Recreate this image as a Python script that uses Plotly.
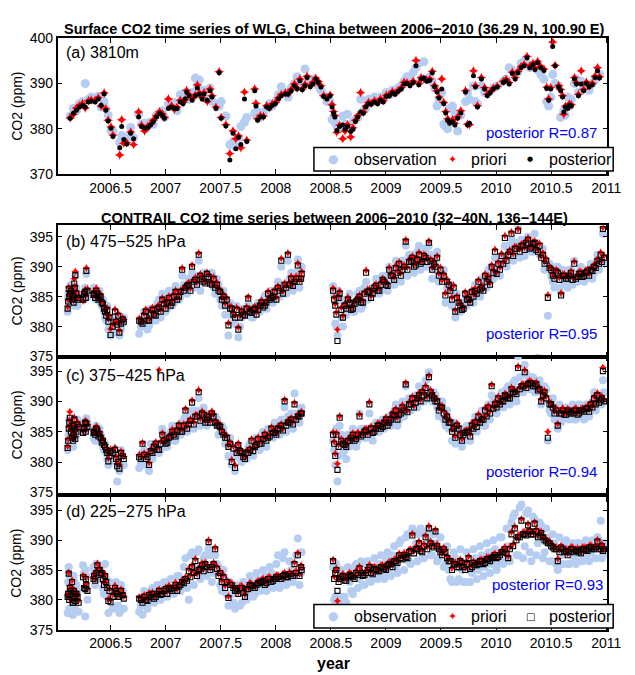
import plotly.graph_objects as go

# ---------------- Panel (a): WLG surface ----------------
a_year = [2006.133, 2006.162, 2006.191, 2006.216, 2006.245, 2006.270, 2006.299, 2006.324, 2006.360, 2006.388,
          2006.414, 2006.442, 2006.457, 2006.478, 2006.504, 2006.522, 2006.583, 2006.601, 2006.620, 2006.647,
          2006.683, 2006.709, 2006.755, 2006.781, 2006.809, 2006.838, 2006.863, 2006.888, 2006.917, 2006.946,
          2006.971, 2006.989, 2007.025, 2007.054, 2007.079, 2007.104, 2007.133, 2007.158, 2007.176, 2007.191,
          2007.212, 2007.241, 2007.270, 2007.288, 2007.306, 2007.331, 2007.349, 2007.378, 2007.403, 2007.421,
          2007.457, 2007.486, 2007.504, 2007.547, 2007.583, 2007.612, 2007.637, 2007.662, 2007.683, 2007.716,
          2007.737, 2007.809, 2007.820, 2007.835, 2007.860, 2007.888, 2007.917, 2007.942, 2007.968, 2007.996,
          2008.025, 2008.050, 2008.086, 2008.112, 2008.140, 2008.169, 2008.194, 2008.219, 2008.241, 2008.266,
          2008.284, 2008.313, 2008.338, 2008.363, 2008.385, 2008.410, 2008.435, 2008.464, 2008.493, 2008.511,
          2008.525, 2008.536, 2008.554, 2008.579, 2008.608, 2008.629, 2008.651, 2008.680, 2008.701, 2008.723,
          2008.745, 2008.770, 2008.795, 2008.817, 2008.842, 2008.867, 2008.896, 2008.924, 2008.950, 2008.975,
          2009.004, 2009.032, 2009.058, 2009.083, 2009.112, 2009.140, 2009.165, 2009.191, 2009.219, 2009.248,
          2009.273, 2009.299, 2009.320, 2009.345, 2009.371, 2009.399, 2009.421, 2009.442, 2009.464, 2009.482,
          2009.507, 2009.525, 2009.543, 2009.561, 2009.579, 2009.604, 2009.626, 2009.651, 2009.680, 2009.723,
          2009.741, 2009.759, 2009.795, 2009.813, 2009.831, 2009.867, 2009.896, 2009.921, 2009.946, 2009.975,
          2010.011, 2010.065, 2010.090, 2010.119, 2010.147, 2010.173, 2010.198, 2010.227, 2010.255, 2010.281,
          2010.306, 2010.335, 2010.353, 2010.378, 2010.406, 2010.435, 2010.460, 2010.478, 2010.496, 2010.514,
          2010.536, 2010.568, 2010.586, 2010.604, 2010.615, 2010.629, 2010.651, 2010.665, 2010.683, 2010.712,
          2010.730, 2010.748, 2010.773, 2010.795, 2010.820, 2010.845, 2010.874, 2010.899, 2010.921, 2010.939]
a_post = [382.3, 383.4, 384.1, 384.8, 385.2, 384.8, 385.9, 386.1, 385.9, 386.6,
          385.2, 387.7, 384.1, 381.7, 380.1, 378.3, 375.8, 380.5, 377.6, 376.6,
          379.0, 377.8, 382.6, 380.5, 380.1, 380.3, 380.8, 381.6, 382.6, 383.4,
          383.0, 382.3, 384.5, 384.8, 384.5, 384.5, 385.9, 385.5, 386.6, 388.1,
          387.3, 386.3, 387.3, 389.0, 387.6, 386.6, 387.7, 386.3, 388.4, 387.0,
          384.5, 392.4, 382.3, 380.6, 373.1, 379.0, 375.6, 378.1, 376.5, 386.6,
          377.2, 388.4, 385.0, 381.9, 382.6, 382.6, 384.8, 384.5, 385.2, 385.5,
          386.6, 387.3, 387.7, 387.6, 388.4, 389.5, 388.8, 390.6, 388.6, 389.5,
          391.3, 389.3, 389.9, 391.0, 390.2, 389.2, 387.1, 386.6, 387.3, 384.8,
          383.5, 382.6, 379.6, 380.5, 380.8, 379.9, 380.5, 379.4, 379.9, 381.6,
          382.6, 383.7, 383.4, 384.8, 385.5, 385.4, 385.9, 385.5, 386.3, 385.9,
          387.1, 387.3, 387.9, 387.6, 388.3, 388.8, 389.9, 390.0, 389.5, 390.2,
          393.9, 389.7, 391.0, 391.2, 390.5, 390.7, 392.4, 389.3, 388.1, 386.8,
          388.8, 385.5, 383.5, 381.9, 381.2, 381.6, 380.8, 382.3, 383.5, 388.1,
          380.8, 381.2, 391.7, 389.2, 384.8, 391.0, 388.8, 387.3, 387.9, 388.8,
          389.2, 390.2, 390.6, 389.9, 392.2, 391.0, 392.4, 393.5, 393.9, 395.7,
          393.5, 394.2, 393.1, 394.6, 393.5, 392.9, 388.9, 386.3, 388.8, 398.2,
          393.9, 389.2, 388.4, 387.0, 383.7, 384.8, 384.5, 385.2, 385.0, 391.0,
          389.9, 387.3, 389.9, 388.4, 390.0, 389.2, 389.7, 391.3, 392.8, 391.2]
a_pri = [382.4, 383.2, 384.6, 385.1, 385.6, 384.6, 386.2, 386.4, 386.3, 386.9,
         385.0, 387.9, 384.4, 381.9, 380.4, 378.6, 374.2, 382.0, 376.8, 376.9,
         379.3, 376.5, 383.7, 380.8, 379.5, 380.6, 381.0, 381.9, 382.9, 383.8,
         383.3, 382.5, 386.6, 385.1, 384.3, 384.8, 386.3, 385.8, 386.4, 388.5,
         387.6, 386.7, 387.5, 389.7, 387.9, 386.9, 388.0, 386.0, 388.8, 387.3,
         384.8, 392.6, 382.5, 380.9, 374.5, 379.5, 377.8, 378.4, 375.8, 388.1,
         377.5, 388.8, 385.6, 382.2, 382.9, 382.8, 385.1, 384.7, 385.5, 385.8,
         386.9, 387.6, 387.9, 387.8, 388.7, 389.9, 389.0, 391.0, 388.8, 389.8,
         391.6, 389.5, 390.3, 391.2, 390.5, 389.5, 387.3, 386.9, 387.5, 385.3,
         383.8, 382.9, 379.2, 380.8, 377.8, 379.5, 380.9, 378.2, 380.2, 381.9,
         382.9, 388.0, 383.7, 385.0, 385.8, 385.6, 386.2, 385.8, 386.6, 386.2,
         387.4, 387.5, 388.2, 387.9, 388.5, 389.1, 390.3, 390.2, 389.8, 390.5,
         395.1, 390.0, 391.3, 391.0, 390.8, 391.0, 392.7, 389.5, 388.4, 387.0,
         391.0, 385.8, 383.8, 382.2, 381.5, 382.0, 381.2, 382.6, 384.0, 388.4,
         381.0, 380.9, 392.8, 389.5, 385.1, 391.3, 389.1, 387.6, 388.2, 389.0,
         389.4, 390.5, 390.9, 390.2, 392.5, 391.3, 392.7, 393.8, 394.2, 396.0,
         393.8, 394.5, 393.4, 394.9, 393.8, 393.2, 389.2, 386.6, 389.1, 399.2,
         394.0, 389.5, 388.7, 387.3, 383.2, 385.0, 384.8, 385.5, 385.3, 391.3,
         390.2, 387.6, 392.8, 388.7, 390.3, 389.5, 390.0, 391.6, 393.5, 391.5]
a_obs = [382.8, 384.5, 384.0, 385.5, 386.0, 390.0, 386.5, 387.0, 386.8, 387.2,
         384.8, 386.0, 384.5, 383.0, 379.6, 379.5, 377.0, 378.5, 377.2, 378.0,
         380.3, 378.0, 383.2, 381.0, 381.2, 380.5, 381.5, 381.0, 383.0, 383.5,
         384.0, 382.5, 385.5, 385.0, 385.8, 384.0, 387.5, 386.5, 388.0, 387.0,
         386.5, 388.0, 391.2, 389.5, 390.8, 387.5, 388.5, 386.5, 389.0, 386.0,
         385.5, 385.0, 386.0, 382.8, 376.5, 377.0, 376.0, 378.0, 380.5, 381.5,
         382.5, 383.5, 383.0, 383.8, 382.5, 383.5, 384.5, 385.5, 385.0, 386.0,
         387.5, 389.3, 388.0, 387.0, 389.0, 390.0, 391.5, 390.0, 389.5, 393.2,
         390.5, 390.5, 391.0, 390.0, 389.5, 388.5, 387.5, 386.0, 386.0, 382.0,
         382.5, 381.5, 380.5, 380.0, 382.8, 381.0, 383.2, 380.0, 381.5, 382.0,
         382.5, 386.5, 384.0, 384.5, 386.5, 386.0, 387.0, 386.0, 387.0, 386.5,
         388.0, 387.5, 388.5, 388.0, 389.0, 389.5, 390.5, 391.5, 391.0, 392.5,
         393.5, 394.5, 391.0, 394.8, 391.0, 391.5, 390.5, 389.0, 385.0, 386.5,
         388.0, 381.0, 380.5, 380.0, 384.5, 385.0, 383.5, 379.5, 383.0, 386.0,
         388.0, 386.5, 389.5, 386.0, 385.5, 389.5, 388.0, 388.0, 388.5, 389.0,
         389.5, 390.5, 391.0, 393.5, 393.0, 392.0, 392.5, 394.5, 395.0, 394.5,
         393.5, 394.0, 393.5, 393.0, 392.0, 391.0, 386.0, 385.0, 387.0, 392.0,
         390.0, 389.5, 382.5, 383.0, 384.0, 383.0, 387.0, 385.0, 386.5, 390.0,
         391.0, 388.0, 390.5, 389.0, 389.5, 388.5, 390.0, 391.0, 391.5, 392.0]

# ---------------- CONTRAIL panels (b)-(d) ----------------
# first set of flight times
ct_year = [2006.11, 2006.12, 2006.13, 2006.15, 2006.16, 2006.17, 2006.18, 2006.20, 2006.25, 2006.27,
           2006.28, 2006.35, 2006.36, 2006.38, 2006.40, 2006.42, 2006.44, 2006.46, 2006.48, 2006.50,
           2006.54, 2006.56, 2006.58, 2006.61,
           2006.76, 2006.79, 2006.82, 2006.85, 2006.88, 2006.91, 2006.94, 2006.97, 2007.00, 2007.03,
           2007.06, 2007.09, 2007.12, 2007.15, 2007.18, 2007.21, 2007.24, 2007.27, 2007.30, 2007.33,
           2007.36, 2007.39, 2007.42, 2007.45, 2007.48, 2007.51, 2007.54, 2007.57, 2007.60, 2007.63,
           2007.66, 2007.69, 2007.72, 2007.75, 2007.78, 2007.81, 2007.84, 2007.87, 2007.90, 2007.93,
           2007.96, 2007.99, 2008.02, 2008.05, 2008.08, 2008.11, 2008.14, 2008.17, 2008.20, 2008.23,
           2008.52, 2008.54, 2008.56, 2008.58, 2008.61, 2008.64, 2008.67, 2008.70, 2008.73, 2008.76,
           2008.79, 2008.82, 2008.85, 2008.88, 2008.91, 2008.94, 2008.97, 2009.00, 2009.03, 2009.06,
           2009.09, 2009.12, 2009.15, 2009.18, 2009.21, 2009.24, 2009.27, 2009.30, 2009.33, 2009.36,
           2009.39, 2009.42, 2009.45, 2009.48, 2009.51, 2009.54, 2009.57, 2009.60, 2009.63, 2009.66,
           2009.69, 2009.72, 2009.75, 2009.78, 2009.81, 2009.84, 2009.87, 2009.90, 2009.93, 2009.96,
           2009.99, 2010.02, 2010.05, 2010.08, 2010.11, 2010.14, 2010.17, 2010.20, 2010.23, 2010.26,
           2010.29, 2010.32, 2010.35, 2010.38, 2010.41, 2010.44, 2010.47, 2010.50, 2010.53, 2010.56,
           2010.59, 2010.62, 2010.65, 2010.68, 2010.71, 2010.74, 2010.77, 2010.80, 2010.83, 2010.86,
           2010.89, 2010.92, 2010.95, 2010.97]
# second set of flight times
ct_year2 = [2006.115, 2006.125, 2006.14, 2006.155, 2006.165, 2006.175, 2006.19, 2006.21, 2006.26, 2006.275,
            2006.29, 2006.345, 2006.37, 2006.39, 2006.41, 2006.43, 2006.45, 2006.47, 2006.49, 2006.52,
            2006.55, 2006.57, 2006.595, 2006.62,
            2006.775, 2006.805, 2006.835, 2006.865, 2006.895, 2006.925, 2006.955, 2006.985, 2007.015, 2007.045,
            2007.075, 2007.105, 2007.135, 2007.165, 2007.195, 2007.225, 2007.255, 2007.285, 2007.315, 2007.345,
            2007.375, 2007.405, 2007.435, 2007.465, 2007.495, 2007.525, 2007.555, 2007.585, 2007.615, 2007.645,
            2007.675, 2007.705, 2007.735, 2007.765, 2007.795, 2007.825, 2007.855, 2007.885, 2007.915, 2007.945,
            2007.975, 2008.005, 2008.035, 2008.065, 2008.095, 2008.125, 2008.155, 2008.185, 2008.215, 2008.235,
            2008.53, 2008.55, 2008.57, 2008.595, 2008.625, 2008.655, 2008.685, 2008.715, 2008.745, 2008.775,
            2008.805, 2008.835, 2008.865, 2008.895, 2008.925, 2008.955, 2008.985, 2009.015, 2009.045, 2009.075,
            2009.105, 2009.135, 2009.165, 2009.195, 2009.225, 2009.255, 2009.285, 2009.315, 2009.345, 2009.375,
            2009.405, 2009.435, 2009.465, 2009.495, 2009.525, 2009.555, 2009.585, 2009.615, 2009.645, 2009.675,
            2009.705, 2009.735, 2009.765, 2009.795, 2009.825, 2009.855, 2009.885, 2009.915, 2009.945, 2009.975,
            2010.005, 2010.035, 2010.065, 2010.095, 2010.125, 2010.155, 2010.185, 2010.215, 2010.245, 2010.275,
            2010.305, 2010.335, 2010.365, 2010.395, 2010.425, 2010.455, 2010.485, 2010.515, 2010.545, 2010.575,
            2010.605, 2010.635, 2010.665, 2010.695, 2010.725, 2010.755, 2010.785, 2010.815, 2010.845, 2010.875,
            2010.905, 2010.935, 2010.96, 2010.98]

b_post = [383.0, 386.3, 385.5, 384.5, 385.0, 387.2, 388.6, 384.5, 384.5, 385.8,
          389.3, 385.5, 384.8, 385.5, 385.0, 384.0, 383.0, 381.8, 380.8, 378.6,
          382.5, 380.3, 379.0, 381.2,
          381.0, 380.5, 382.5, 381.0, 382.8, 381.8, 383.2, 384.5, 383.0, 384.8,
          384.0, 385.8, 385.0, 389.5, 386.5, 387.0, 390.0, 387.8, 392.0, 388.0,
          387.2, 388.3, 387.0, 386.5, 386.0, 384.5, 383.5, 380.2, 383.0, 381.5,
          379.5, 382.5, 381.8, 384.7, 382.3, 383.0, 382.8, 384.0, 383.5, 385.5,
          384.8, 385.8, 386.5, 391.0, 387.0, 392.0, 388.0, 387.5, 390.2, 388.0,
          386.0, 383.5, 377.6, 385.5, 381.5, 383.0, 384.0, 383.0, 384.2, 385.0,
          384.0, 389.0, 386.0, 385.5, 386.8, 386.0, 387.8, 387.0, 389.5, 388.5,
          389.8, 390.5, 389.5, 394.2, 390.8, 391.5, 390.2, 392.0, 390.8, 391.5,
          394.0, 389.5, 390.0, 388.5, 387.5, 385.2, 387.0, 384.5, 382.5, 384.0,
          382.8, 385.5, 384.5, 385.8, 386.0, 387.5, 386.5, 388.5, 388.0, 390.0,
          392.5, 390.5, 391.8, 394.8, 392.0, 395.5, 393.0, 396.0, 393.5, 392.8,
          394.5, 393.2, 394.0, 392.5, 391.5, 390.5, 384.8, 389.5, 388.0, 389.0,
          385.2, 388.5, 388.0, 389.0, 390.5, 388.3, 388.8, 388.5, 389.2, 389.5,
          390.0, 391.0, 392.0, 396.3]
b_pri = [383.3, 386.6, 385.9, 384.8, 385.4, 388.0, 389.2, 384.8, 384.3, 386.2,
         389.8, 385.9, 385.1, 385.9, 385.4, 384.3, 383.4, 382.1, 381.3, 379.6,
         382.9, 380.6, 379.4, 381.5,
         381.4, 380.8, 382.9, 381.3, 383.2, 382.1, 383.6, 384.8, 383.4, 385.1,
         384.4, 386.1, 385.4, 389.8, 386.8, 387.4, 390.3, 388.2, 392.3, 388.4,
         387.5, 388.7, 387.3, 386.9, 386.4, 384.8, 383.9, 380.6, 383.3, 381.9,
         379.9, 382.8, 382.2, 385.0, 382.6, 383.4, 383.1, 384.4, 383.8, 385.9,
         385.1, 386.2, 386.8, 391.4, 387.3, 392.3, 388.4, 387.8, 390.6, 388.3,
         386.4, 383.8, 379.5, 385.9, 381.8, 383.4, 384.3, 383.4, 384.6, 385.3,
         384.4, 389.4, 386.3, 385.9, 387.1, 386.4, 388.1, 387.4, 389.9, 388.8,
         390.2, 390.8, 389.9, 394.5, 391.2, 391.8, 390.6, 392.4, 391.1, 391.9,
         394.3, 389.9, 390.3, 388.9, 387.8, 385.6, 387.3, 384.9, 382.8, 384.4,
         383.2, 385.8, 384.9, 386.1, 386.4, 387.8, 386.9, 388.8, 388.4, 390.3,
         392.9, 390.8, 392.2, 395.2, 392.3, 395.8, 393.4, 396.3, 393.8, 393.2,
         394.8, 393.6, 394.3, 392.9, 391.8, 390.9, 385.3, 389.8, 388.4, 389.3,
         385.6, 388.8, 388.4, 389.3, 390.9, 388.6, 389.2, 388.8, 389.6, 389.8,
         390.4, 391.3, 392.4, 396.6]
b_obs = [382.5, 385.5, 384.8, 384.0, 385.8, 386.5, 388.5, 383.5, 385.0, 386.5,
         388.8, 386.5, 385.8, 384.8, 386.0, 383.5, 382.5, 381.0, 379.5, 378.5,
         381.5, 379.0, 378.5, 380.5,
         378.8, 380.0, 381.5, 380.2, 382.0, 381.0, 384.5, 385.5, 382.5, 386.0,
         383.5, 386.8, 384.5, 388.5, 386.0, 388.0, 389.0, 387.2, 391.0, 387.5,
         388.5, 387.8, 389.0, 385.5, 387.0, 383.5, 382.0, 378.5, 381.8, 380.5,
         378.2, 381.5, 383.0, 383.8, 381.5, 382.5, 384.0, 383.0, 385.2, 384.8,
         386.0, 385.0, 387.5, 390.0, 386.5, 391.0, 389.0, 386.8, 391.2, 389.5,
         386.8, 380.5, 378.5, 384.5, 380.0, 382.0, 385.5, 382.5, 383.0, 386.0,
         383.5, 387.5, 385.5, 386.5, 388.0, 385.5, 388.5, 386.5, 390.0, 387.5,
         391.0, 389.5, 391.0, 393.5, 392.0, 390.5, 391.5, 393.5, 390.0, 392.5,
         393.5, 388.0, 390.8, 387.5, 388.5, 384.0, 386.0, 383.5, 381.5, 382.5,
         384.0, 384.5, 385.5, 384.8, 387.0, 386.5, 388.0, 387.5, 389.5, 389.0,
         391.5, 391.5, 390.5, 393.5, 393.0, 394.5, 392.0, 396.8, 394.5, 391.8,
         395.0, 392.5, 395.5, 374.8, 392.5, 389.5, 381.8, 388.5, 386.5, 390.0,
         385.5, 387.5, 386.5, 389.5, 391.0, 387.5, 390.0, 387.5, 388.5, 390.5,
         389.0, 392.0, 390.5, 395.5]
b2_post = [384.2, 385.0, 386.0, 385.2, 384.0, 386.5, 385.5, 384.8, 385.5, 384.8,
           386.0, 385.3, 386.0, 384.5, 385.0, 383.8, 382.5, 382.8, 381.5, 380.0,
           380.8, 381.8, 380.5, 380.8,
           380.8, 381.8, 381.0, 382.2, 382.0, 383.0, 382.5, 383.8, 384.0, 383.5,
           385.0, 384.5, 385.8, 386.0, 386.8, 386.0, 387.5, 387.0, 388.5, 387.5,
           388.8, 387.2, 388.0, 387.0, 385.8, 385.0, 384.5, 383.0, 382.0, 382.8,
           381.5, 382.0, 383.0, 382.5, 382.8, 382.0, 383.5, 383.2, 384.0, 384.5,
           385.0, 384.5, 386.0, 385.5, 386.5, 387.0, 386.8, 388.0, 387.5, 388.8,
           384.5, 382.0, 384.8, 382.8, 383.5, 384.5, 382.8, 383.8, 384.5, 384.0,
           385.5, 385.8, 384.8, 386.5, 386.0, 387.0, 387.5, 386.8, 388.5, 387.8,
           389.0, 388.5, 390.0, 389.5, 391.0, 390.0, 391.2, 390.5, 391.8, 390.8,
           391.0, 390.5, 391.5, 389.5, 388.5, 387.5, 386.0, 386.5, 384.8, 383.5,
           383.0, 384.5, 384.0, 385.0, 385.5, 386.2, 386.0, 387.5, 387.0, 389.0,
           388.8, 389.5, 390.5, 391.0, 392.5, 391.8, 393.0, 392.5, 393.5, 394.0,
           393.0, 393.8, 392.8, 393.5, 392.0, 391.0, 389.8, 388.5, 389.2, 387.8,
           388.5, 388.0, 388.5, 387.8, 388.0, 388.8, 388.3, 389.0, 388.5, 389.3,
           389.8, 390.5, 390.8, 391.5]
b2_pri = [384.5, 385.4, 386.3, 385.5, 384.4, 386.8, 385.9, 385.1, 385.8, 385.2,
          386.3, 385.6, 386.4, 384.8, 385.4, 384.1, 382.9, 383.1, 381.9, 380.4,
          381.1, 382.2, 380.8, 381.2,
          381.1, 382.2, 381.3, 382.6, 382.3, 383.4, 382.8, 384.1, 384.4, 383.8,
          385.4, 384.8, 386.1, 386.4, 387.1, 386.4, 387.8, 387.4, 388.8, 387.9,
          389.1, 387.6, 388.3, 387.4, 386.1, 385.4, 384.8, 383.4, 382.3, 383.2,
          381.8, 382.4, 383.3, 382.9, 383.1, 382.4, 383.8, 383.6, 384.3, 384.9,
          385.3, 384.9, 386.3, 385.9, 386.8, 387.4, 387.1, 388.4, 387.8, 389.2,
          384.9, 382.4, 385.1, 383.2, 383.8, 384.9, 383.1, 384.2, 384.8, 384.4,
          385.8, 386.2, 385.1, 386.9, 386.3, 387.4, 387.8, 387.2, 388.8, 388.2,
          389.3, 388.9, 390.3, 389.9, 391.3, 390.4, 391.5, 390.9, 392.1, 391.2,
          391.3, 390.9, 391.8, 389.9, 388.8, 387.9, 386.3, 386.9, 385.1, 383.9,
          383.3, 384.9, 384.3, 385.4, 385.8, 386.6, 386.3, 387.9, 387.3, 389.4,
          389.1, 389.9, 390.8, 391.4, 392.8, 392.2, 393.3, 392.9, 393.8, 394.4,
          393.3, 394.2, 393.1, 393.9, 392.3, 391.4, 390.1, 388.9, 389.5, 388.2,
          388.8, 388.4, 388.8, 388.2, 388.3, 389.2, 388.6, 389.4, 388.8, 389.7,
          390.1, 390.9, 391.1, 391.9]
b2_obs = [385.0, 384.0, 387.0, 386.0, 383.5, 385.5, 386.5, 385.5, 384.5, 386.0,
          385.0, 386.0, 384.5, 385.5, 384.0, 384.5, 381.5, 383.5, 380.5, 379.0,
          381.5, 381.0, 379.5, 381.5,
          380.0, 382.5, 379.5, 383.0, 381.0, 384.0, 381.5, 384.5, 383.0, 384.5,
          384.0, 385.5, 385.0, 387.0, 385.5, 387.5, 386.5, 388.5, 386.0, 389.0,
          387.5, 388.5, 386.5, 388.0, 384.5, 386.0, 383.5, 384.0, 380.5, 383.5,
          380.0, 383.0, 382.0, 383.5, 381.5, 383.0, 382.5, 384.5, 383.0, 385.5,
          384.0, 385.5, 385.0, 386.5, 385.5, 388.0, 386.0, 389.0, 386.5, 390.0,
          385.5, 380.0, 386.0, 381.5, 384.5, 383.0, 384.0, 382.5, 385.5, 383.0,
          386.5, 384.5, 386.0, 385.5, 387.0, 386.0, 388.5, 386.0, 389.5, 387.0,
          390.0, 387.5, 391.0, 388.5, 392.0, 389.0, 392.5, 389.5, 393.0, 390.0,
          392.0, 389.5, 392.5, 388.5, 389.5, 386.5, 387.0, 385.5, 385.5, 382.5,
          384.0, 383.5, 385.0, 384.0, 386.5, 385.0, 387.0, 386.5, 388.0, 388.0,
          390.0, 388.5, 391.5, 390.0, 393.5, 391.0, 394.0, 391.5, 394.5, 393.0,
          394.0, 392.5, 394.0, 392.0, 393.0, 390.0, 390.5, 387.5, 390.0, 386.5,
          389.5, 387.0, 389.5, 387.0, 389.0, 388.0, 389.5, 388.0, 389.5, 388.0,
          390.5, 389.5, 391.5, 390.5]

c_post = [382.3, 385.5, 387.3, 384.0, 383.5, 387.0, 383.8, 386.2, 384.8, 386.5,
          386.3, 385.0, 384.5, 385.2, 384.6, 383.2, 382.8, 382.0, 380.1, 381.8,
          382.0, 379.3, 378.9, 381.0,
          380.8, 383.0, 380.5, 379.5, 381.5, 383.0, 382.0, 384.5, 383.0, 384.0,
          385.0, 384.2, 386.0, 385.0, 388.5, 386.2, 389.8, 387.5, 391.5, 388.0,
          386.5, 387.5, 388.0, 386.5, 386.0, 385.0, 384.0, 382.5, 380.0, 379.0,
          382.8, 381.5, 380.5, 381.5, 383.5, 382.5, 383.8, 383.0, 384.5, 384.0,
          385.5, 384.8, 385.5, 386.0, 390.0, 386.5, 387.0, 389.5, 387.5, 388.0,
          384.5, 381.0, 378.7, 387.3, 383.0, 382.5, 383.5, 384.5, 383.8, 387.5,
          384.5, 385.2, 389.5, 384.8, 385.5, 386.0, 385.8, 387.0, 386.5, 387.8,
          388.5, 387.8, 389.0, 392.8, 389.5, 390.5, 389.8, 391.0, 391.5, 392.2,
          394.0, 391.0, 390.0, 388.5, 389.0, 387.0, 386.5, 385.0, 384.0, 385.5,
          383.5, 384.8, 385.0, 386.0, 386.5, 387.5, 387.0, 388.5, 389.0, 392.5,
          389.5, 390.5, 390.0, 391.0, 390.5, 392.0, 391.5, 395.5, 392.5, 394.8,
          392.8, 393.0, 392.5, 391.8, 390.0, 391.5, 384.0, 389.5, 388.0, 386.0,
          388.0, 387.8, 388.5, 388.0, 388.5, 387.8, 388.5, 388.3, 388.8, 389.5,
          390.5, 391.0, 390.2, 395.0]
c_pri = [382.6, 385.8, 388.3, 384.3, 383.9, 387.4, 384.2, 386.6, 385.1, 386.8,
         386.7, 385.4, 384.8, 385.6, 385.0, 383.5, 383.2, 382.3, 380.6, 382.1,
         382.4, 379.7, 379.5, 381.3,
         381.2, 383.2, 380.9, 379.9, 381.9, 383.3, 395.2, 384.8, 383.4, 384.3,
         385.4, 384.6, 386.3, 385.4, 388.8, 386.6, 390.2, 387.8, 391.9, 388.4,
         386.8, 387.9, 388.4, 386.8, 386.4, 385.3, 384.4, 382.8, 380.4, 379.5,
         383.1, 381.9, 380.8, 381.9, 383.8, 382.9, 384.1, 383.4, 384.8, 384.4,
         385.8, 385.2, 385.9, 386.3, 390.3, 386.9, 387.3, 389.8, 387.9, 388.3,
         384.9, 381.4, 379.7, 387.6, 383.4, 382.8, 383.9, 384.8, 384.2, 387.9,
         384.9, 385.5, 389.9, 385.2, 385.8, 386.4, 386.1, 387.4, 386.8, 388.2,
         388.8, 388.2, 389.4, 393.1, 389.9, 390.8, 390.2, 391.4, 391.8, 392.6,
         394.3, 391.4, 390.3, 388.9, 389.3, 387.4, 386.8, 385.4, 384.3, 385.9,
         383.8, 385.2, 385.3, 386.4, 386.8, 387.9, 387.3, 388.9, 389.3, 392.8,
         389.9, 390.8, 390.4, 391.3, 390.9, 392.3, 391.9, 395.8, 392.8, 395.2,
         393.2, 393.3, 392.9, 392.1, 390.4, 391.8, 385.0, 389.8, 388.4, 386.3,
         388.4, 388.1, 388.8, 388.4, 388.8, 388.2, 388.8, 388.6, 389.2, 389.8,
         390.8, 391.4, 390.5, 395.6]
c_obs = [382.0, 384.5, 386.5, 385.0, 382.5, 386.0, 385.0, 387.0, 385.5, 386.0,
         387.2, 385.5, 383.5, 384.0, 385.5, 384.0, 382.0, 381.5, 379.5, 380.0,
         380.5, 376.8, 378.5, 379.5,
         379.0, 381.5, 379.5, 378.5, 380.5, 382.0, 381.5, 385.5, 382.5, 383.5,
         386.0, 383.5, 385.5, 386.5, 387.5, 385.5, 388.5, 388.0, 390.5, 387.0,
         388.0, 386.5, 387.5, 387.5, 384.5, 386.0, 383.0, 381.0, 379.5, 378.5,
         381.5, 380.0, 381.0, 382.5, 382.5, 383.5, 383.0, 384.5, 383.5, 385.5,
         384.5, 386.5, 385.0, 387.0, 389.0, 387.5, 388.0, 391.3, 386.5, 388.5,
         383.5, 379.5, 376.8, 386.0, 381.5, 380.5, 382.5, 385.5, 382.5, 388.0,
         385.5, 384.0, 388.0, 383.5, 386.5, 385.0, 387.0, 386.0, 387.5, 386.5,
         389.5, 387.0, 390.0, 392.5, 390.5, 389.5, 391.0, 392.5, 390.0, 393.5,
         394.8, 390.0, 391.0, 387.5, 390.0, 386.0, 385.5, 383.5, 383.0, 384.5,
         382.5, 383.5, 386.0, 385.0, 387.5, 386.5, 388.5, 386.0, 389.5, 391.0,
         390.5, 389.0, 391.5, 390.5, 392.5, 391.0, 393.5, 397.5, 391.5, 396.0,
         393.5, 394.0, 391.5, 393.0, 389.5, 392.5, 383.5, 388.0, 387.0, 385.5,
         386.5, 388.5, 387.5, 389.0, 387.0, 389.0, 387.5, 387.0, 389.5, 388.5,
         391.5, 390.0, 391.0, 393.5]
c2_post = [383.5, 386.5, 385.0, 386.0, 384.5, 385.5, 385.0, 385.8, 385.5, 385.0,
           385.8, 384.8, 385.5, 384.2, 384.0, 383.5, 382.5, 381.5, 381.0, 381.5,
           380.5, 380.0, 381.5, 380.5,
           380.5, 381.2, 380.8, 381.8, 382.5, 382.0, 383.0, 383.5, 383.2, 384.2,
           384.5, 385.2, 385.0, 386.0, 385.5, 386.8, 386.2, 387.5, 386.8, 387.8,
           387.0, 386.5, 387.5, 386.0, 385.8, 384.5, 384.0, 383.0, 382.2, 381.5,
           381.8, 380.8, 381.5, 382.0, 381.8, 382.8, 383.0, 383.8, 383.5, 384.2,
           384.8, 384.5, 385.5, 385.2, 386.0, 386.5, 386.2, 387.0, 387.5, 388.0,
           383.0, 384.5, 382.5, 383.5, 382.8, 383.5, 384.0, 383.5, 384.5, 384.2,
           385.0, 384.5, 385.5, 385.0, 386.0, 385.5, 386.5, 386.0, 387.0, 387.5,
           387.0, 388.0, 388.5, 388.2, 389.5, 389.0, 390.5, 390.0, 391.0, 390.5,
           391.5, 390.5, 390.0, 389.0, 388.0, 387.5, 386.5, 385.5, 386.0, 384.5,
           384.5, 385.0, 384.2, 385.5, 385.8, 386.5, 387.0, 387.5, 388.0, 388.8,
           389.0, 389.5, 390.0, 390.8, 390.5, 391.5, 391.2, 392.0, 392.5, 392.2,
           393.0, 392.5, 392.8, 392.0, 391.0, 390.5, 389.5, 389.0, 388.5, 388.0,
           388.5, 387.8, 388.2, 388.0, 388.5, 388.0, 388.5, 388.8, 388.3, 389.0,
           389.5, 389.8, 390.5, 390.0]
c2_pri = [383.8, 386.9, 385.3, 386.4, 384.8, 385.9, 385.3, 386.1, 385.9, 385.3,
          386.2, 385.1, 385.9, 384.5, 384.4, 383.8, 382.9, 381.8, 381.4, 381.8,
          380.9, 380.4, 381.8, 380.9,
          380.9, 381.5, 381.2, 382.1, 382.9, 382.3, 383.4, 383.8, 383.6, 384.5,
          384.9, 385.5, 385.4, 386.3, 385.9, 387.1, 386.6, 387.8, 387.2, 388.1,
          387.4, 386.8, 387.9, 386.3, 386.2, 384.8, 384.4, 383.3, 382.6, 381.8,
          382.2, 381.1, 381.9, 382.3, 382.2, 383.1, 383.4, 384.1, 383.9, 384.5,
          385.2, 384.8, 385.9, 385.5, 386.4, 386.8, 386.6, 387.3, 387.9, 388.3,
          383.4, 384.8, 382.9, 383.8, 383.2, 383.8, 384.4, 383.8, 384.9, 384.5,
          385.4, 384.8, 385.9, 385.3, 386.4, 385.8, 386.9, 386.3, 387.4, 387.8,
          387.4, 388.3, 388.9, 388.5, 389.9, 389.3, 390.9, 390.3, 391.4, 390.8,
          391.9, 390.8, 390.4, 389.3, 388.4, 387.8, 386.9, 385.8, 386.4, 384.8,
          384.9, 385.3, 384.6, 385.8, 386.2, 386.8, 387.4, 387.8, 388.4, 389.1,
          389.4, 389.8, 390.4, 391.1, 390.9, 391.8, 391.6, 392.3, 392.9, 392.5,
          393.4, 392.8, 393.2, 392.3, 391.4, 390.8, 389.9, 389.3, 388.9, 388.3,
          388.9, 388.1, 388.6, 388.3, 388.9, 388.3, 388.9, 389.1, 388.7, 389.3,
          389.9, 390.1, 390.9, 390.3]
c2_obs = [383.0, 387.0, 384.5, 386.5, 384.0, 386.0, 384.5, 386.5, 385.0, 385.5,
          386.5, 384.0, 386.0, 383.5, 384.5, 382.5, 383.0, 380.5, 381.5, 380.5,
          381.5, 379.0, 382.0, 379.5,
          380.0, 382.0, 379.5, 383.0, 381.5, 383.0, 382.0, 384.5, 382.5, 385.0,
          383.5, 386.0, 384.5, 387.0, 385.0, 388.0, 385.5, 388.5, 386.0, 389.0,
          386.0, 387.5, 386.5, 387.0, 385.0, 385.5, 383.0, 384.0, 381.0, 382.5,
          380.5, 381.5, 380.5, 383.0, 381.0, 384.0, 382.0, 385.0, 382.5, 385.5,
          384.0, 385.5, 384.5, 386.5, 385.0, 387.5, 385.5, 388.0, 386.5, 389.0,
          382.0, 385.5, 381.0, 384.5, 382.0, 384.5, 383.0, 384.5, 383.5, 385.5,
          384.0, 385.5, 384.5, 386.0, 385.0, 386.5, 385.5, 387.0, 386.0, 388.5,
          386.0, 389.0, 387.5, 389.5, 388.5, 390.5, 389.0, 391.5, 390.0, 392.0,
          390.5, 391.5, 389.0, 390.0, 387.0, 388.5, 385.5, 386.5, 385.0, 385.5,
          383.5, 386.0, 383.5, 386.5, 385.0, 387.5, 386.0, 388.5, 387.0, 390.0,
          388.0, 390.5, 389.0, 392.0, 389.5, 393.0, 390.0, 394.0, 391.5, 394.5,
          392.0, 394.0, 391.5, 393.5, 390.0, 392.0, 388.5, 390.5, 387.0, 389.5,
          387.0, 389.0, 387.0, 389.5, 387.0, 389.5, 387.5, 389.5, 387.5, 390.0,
          388.5, 391.0, 389.5, 391.5]

d_post = [380.5, 384.4, 382.0, 383.0, 379.5, 381.0, 379.8, 380.5, 383.8, 381.8,
          382.5, 384.0, 383.2, 385.8, 385.0, 384.5, 382.5, 383.0, 379.8, 379.6,
          382.0, 381.0, 380.5, 380.8,
          380.2, 379.5, 380.0, 380.8, 381.0, 380.5, 381.5, 381.0, 381.8, 382.0,
          381.5, 382.5, 382.2, 383.0, 383.5, 384.8, 385.5, 386.5, 385.0, 385.8,
          386.0, 389.7, 385.5, 388.5, 384.0, 383.0, 382.0, 380.3, 382.5, 381.5,
          381.0, 382.0, 380.5, 381.8, 382.3, 382.0, 382.8, 383.0, 382.5, 383.5,
          383.0, 383.5, 383.8, 383.5, 384.2, 383.8, 384.0, 386.0, 387.5, 385.5,
          386.5, 384.5, 381.5, 383.5, 384.0, 383.2, 384.2, 383.8, 384.5, 385.3,
          384.0, 384.5, 385.5, 384.3, 385.0, 384.8, 385.5, 385.0, 386.0, 385.5,
          386.5, 387.5, 386.8, 387.2, 388.0, 390.8, 388.5, 389.5, 388.0, 390.5,
          392.0, 389.0, 391.5, 388.5, 387.5, 388.0, 386.5, 385.0, 386.0, 385.5,
          386.2, 385.0, 387.0, 385.5, 385.8, 386.0, 386.5, 386.2, 386.8, 387.0,
          387.5, 387.2, 388.0, 388.5, 387.0, 391.0, 392.0, 390.5, 393.3, 391.0,
          392.5, 391.0, 392.8, 390.5, 391.2, 390.0, 389.5, 389.0, 388.5, 386.5,
          388.8, 388.0, 387.5, 388.5, 388.0, 388.3, 387.8, 388.5, 388.2, 388.8,
          388.5, 389.8, 388.5, 388.2]
d_pri = [380.8, 384.6, 382.4, 383.3, 379.9, 381.3, 380.2, 380.8, 384.1, 382.2,
         382.8, 384.4, 383.5, 386.1, 385.4, 384.8, 382.9, 383.3, 380.2, 380.0,
         382.4, 381.3, 380.9, 381.1,
         380.5, 379.9, 380.3, 381.2, 381.3, 380.9, 381.8, 381.4, 382.1, 382.4,
         381.8, 382.9, 382.5, 383.4, 383.8, 385.2, 385.8, 386.9, 385.3, 386.2,
         386.3, 390.0, 385.9, 388.8, 384.4, 383.3, 382.4, 380.6, 382.8, 381.9,
         381.3, 382.4, 380.9, 382.1, 382.7, 382.3, 383.2, 383.3, 382.9, 383.8,
         383.4, 383.8, 384.2, 383.8, 384.6, 384.1, 384.4, 386.3, 387.9, 385.8,
         386.8, 384.9, 379.8, 383.8, 384.4, 383.5, 384.6, 384.1, 384.9, 385.6,
         384.4, 384.8, 385.9, 384.6, 385.4, 385.1, 385.9, 385.3, 386.4, 385.8,
         386.9, 387.8, 387.2, 387.5, 388.4, 391.1, 388.9, 389.8, 388.4, 390.8,
         392.4, 389.4, 391.8, 388.9, 387.8, 388.4, 386.8, 385.4, 386.3, 385.9,
         386.5, 385.4, 387.3, 385.9, 386.1, 386.4, 386.8, 386.6, 387.1, 387.4,
         387.8, 387.6, 388.3, 388.9, 387.3, 391.4, 392.3, 390.9, 393.6, 391.4,
         392.8, 391.4, 393.1, 390.9, 391.5, 390.4, 389.8, 389.4, 388.8, 386.9,
         389.1, 388.4, 387.8, 388.9, 388.3, 388.7, 388.1, 388.9, 388.5, 389.2,
         388.8, 390.1, 388.9, 388.5]
d_obs = [377.8, 385.5, 384.0, 382.0, 377.5, 383.0, 378.0, 381.5, 385.8, 377.2,
         384.0, 385.0, 382.5, 386.0, 383.5, 384.0, 381.0, 383.5, 377.8, 380.5,
         381.0, 379.0, 377.8, 381.5,
         378.0, 377.5, 381.0, 379.5, 382.0, 380.0, 382.5, 380.5, 383.0, 381.0,
         383.5, 381.5, 384.0, 382.0, 387.0, 380.0, 388.0, 385.0, 388.5, 384.5,
         387.5, 388.5, 383.0, 387.5, 385.5, 381.5, 383.5, 379.0, 381.0, 378.5,
         382.0, 379.5, 381.5, 380.5, 383.0, 381.0, 383.5, 382.0, 384.0, 382.5,
         384.5, 382.5, 387.5, 382.5, 388.0, 383.0, 385.0, 384.0, 390.3, 384.5,
         385.5, 380.5, 379.0, 385.0, 380.5, 379.5, 383.0, 381.0, 386.0, 383.5,
         382.5, 386.0, 383.5, 385.5, 384.0, 386.0, 384.5, 387.0, 384.5, 387.5,
         385.5, 389.5, 387.5, 390.5, 386.5, 392.0, 389.5, 391.0, 387.0, 391.5,
         390.0, 387.5, 389.5, 387.0, 388.5, 386.0, 385.0, 383.0, 387.0, 383.5,
         385.0, 383.0, 386.0, 384.5, 387.0, 385.0, 387.5, 385.5, 388.0, 386.0,
         388.5, 386.0, 390.5, 386.5, 389.0, 393.0, 394.5, 387.5, 396.0, 389.0,
         395.0, 386.5, 393.5, 389.5, 392.5, 388.0, 390.5, 386.5, 389.5, 385.0,
         387.5, 389.5, 386.0, 389.0, 387.0, 389.5, 386.5, 389.0, 387.5, 388.0,
         389.0, 390.5, 393.3, 387.5]
d2_post = [381.0, 380.0, 381.5, 379.5, 381.5, 380.5, 381.0, 379.5, 382.0, 383.5,
           381.5, 383.5, 384.5, 385.0, 384.2, 383.5, 384.0, 382.0, 381.5, 380.5,
           381.5, 380.5, 381.5, 380.2,
           380.0, 380.5, 379.8, 380.5, 380.2, 381.0, 380.8, 381.5, 381.0, 381.8,
           382.0, 381.5, 382.5, 382.8, 383.2, 383.8, 384.5, 384.0, 385.2, 384.8,
           385.5, 385.0, 386.0, 385.2, 384.5, 383.8, 383.0, 382.5, 382.0, 381.5,
           382.0, 381.2, 381.8, 382.5, 382.0, 382.5, 382.8, 383.2, 382.8, 383.5,
           383.2, 383.8, 383.5, 384.0, 383.8, 384.3, 384.0, 384.5, 384.0, 385.0,
           383.5, 385.0, 383.0, 383.8, 383.2, 383.8, 384.0, 383.5, 384.2, 384.5,
           384.2, 385.0, 384.5, 385.2, 384.8, 385.5, 385.2, 385.8, 386.0, 386.5,
           386.2, 387.0, 387.5, 387.0, 388.2, 387.8, 388.5, 388.2, 389.0, 388.5,
           389.5, 388.8, 389.0, 388.0, 388.5, 387.0, 386.5, 386.0, 385.5, 386.5,
           385.5, 386.0, 385.2, 386.2, 385.8, 386.5, 386.0, 386.8, 386.5, 387.2,
           387.0, 387.5, 388.0, 387.8, 388.5, 389.0, 390.0, 390.5, 391.0, 390.8,
           391.5, 391.0, 391.5, 390.8, 390.5, 389.8, 389.5, 388.8, 388.5, 388.0,
           388.5, 388.2, 388.0, 388.5, 388.2, 388.0, 388.5, 388.3, 388.8, 388.5,
           388.8, 388.5, 389.0, 388.5]
d2_pri = [381.3, 380.4, 381.8, 379.9, 381.8, 380.9, 381.3, 379.9, 382.3, 383.8,
          381.9, 383.8, 384.8, 385.4, 384.5, 383.9, 384.3, 382.4, 381.8, 380.9,
          381.8, 380.9, 381.8, 380.6,
          380.3, 380.8, 380.2, 380.8, 380.6, 381.3, 381.2, 381.8, 381.4, 382.1,
          382.4, 381.8, 382.8, 383.2, 383.5, 384.2, 384.8, 384.4, 385.5, 385.2,
          385.8, 385.4, 386.3, 385.6, 384.8, 384.2, 383.3, 382.9, 382.3, 381.9,
          382.3, 381.6, 382.1, 382.9, 382.3, 382.9, 383.1, 383.6, 383.1, 383.9,
          383.5, 384.2, 383.8, 384.4, 384.1, 384.7, 384.3, 384.9, 384.3, 385.4,
          383.9, 385.3, 383.4, 384.1, 383.6, 384.1, 384.4, 383.9, 384.5, 384.9,
          384.5, 385.4, 384.8, 385.6, 385.2, 385.8, 385.6, 386.1, 386.4, 386.8,
          386.6, 387.3, 387.9, 387.4, 388.5, 388.2, 388.8, 388.6, 389.4, 388.9,
          389.8, 389.2, 389.4, 388.4, 388.8, 387.4, 386.8, 386.4, 385.9, 386.8,
          385.9, 386.4, 385.6, 386.5, 386.2, 386.8, 386.4, 387.2, 386.8, 387.6,
          387.4, 387.8, 388.4, 388.2, 388.9, 389.4, 390.4, 390.8, 391.4, 391.2,
          391.8, 391.4, 391.9, 391.2, 390.8, 390.2, 389.9, 389.2, 388.9, 388.4,
          388.8, 388.6, 388.4, 388.9, 388.5, 388.4, 388.9, 388.7, 389.1, 388.9,
          389.1, 388.9, 389.4, 388.8]
d2_obs = [383.0, 378.5, 383.5, 377.5, 384.0, 379.0, 382.5, 378.0, 384.5, 385.0,
          380.0, 385.5, 386.0, 384.0, 385.5, 382.0, 386.0, 380.5, 383.0, 378.5,
          383.0, 379.0, 382.5, 378.5,
          379.0, 381.5, 378.5, 381.5, 379.5, 382.5, 380.0, 383.0, 380.5, 383.5,
          381.0, 384.0, 381.5, 385.5, 382.0, 387.5, 382.5, 388.0, 383.5, 387.0,
          384.0, 387.5, 384.5, 386.0, 382.5, 385.0, 381.0, 383.0, 379.5, 382.5,
          379.0, 383.0, 380.0, 384.0, 380.5, 384.5, 381.5, 385.0, 381.5, 385.5,
          382.0, 386.0, 382.0, 387.0, 382.5, 386.5, 383.0, 387.5, 382.5, 388.0,
          380.0, 386.0, 379.5, 385.0, 380.5, 385.5, 381.5, 385.5, 382.0, 386.5,
          382.5, 386.5, 383.0, 387.0, 383.5, 387.5, 383.5, 388.0, 384.0, 389.0,
          384.5, 390.0, 385.0, 391.0, 386.0, 391.5, 386.5, 392.0, 387.0, 391.5,
          387.5, 391.0, 386.5, 390.5, 385.5, 389.0, 383.5, 388.0, 383.0, 388.5,
          383.0, 388.0, 383.0, 388.5, 383.5, 389.0, 384.0, 389.5, 384.5, 390.0,
          385.0, 390.5, 386.0, 392.0, 386.5, 394.0, 387.5, 395.5, 387.0, 394.5,
          388.0, 394.0, 387.5, 393.0, 387.0, 392.0, 386.5, 391.0, 386.0, 390.5,
          386.0, 390.0, 386.0, 389.5, 386.0, 389.5, 386.5, 390.0, 386.5, 390.0,
          387.0, 390.0, 387.0, 389.5]

x_tick_vals = [2006.5, 2007, 2007.5, 2008, 2008.5, 2009, 2009.5, 2010, 2010.5, 2011]
x_tick_text = ["2006.5", "2007", "2007.5", "2008", "2008.5", "2009", "2009.5", "2010", "2010.5", "2011"]
ya_ticks = [370, 380, 390, 400]
yb_ticks = [375, 380, 385, 390, 395]

panel_labels = ["(a) 3810m", "(b) 475\u2212525 hPa", "(c) 375\u2212425 hPa", "(d) 225\u2212275 hPa"]
r_labels = ["posterior R=0.87", "posterior R=0.95", "posterior R=0.94", "posterior R=0.93"]
legend_names = ["observation", "priori", "posterior"]

# ---------------- figure ----------------
W, H = 635, 675
FONT = "Liberation Sans, Arial, Helvetica, sans-serif"
OBS_C = "#b5cdf0"
PRI_C = "#ff0000"


def py(px):  # pixel from top -> paper fraction
    return 1 - px / H


def pxx(px):
    return px / W


def merge(*passes):
    """Concatenate (x, obs, pri, post) passes, trimming each pass to a common length."""
    xs, ob, pr, po = [], [], [], []
    for x, o, r, s in passes:
        n = min(len(x), len(o), len(r), len(s))
        xs += x[:n]; ob += o[:n]; pr += r[:n]; po += s[:n]
    return xs, ob, pr, po


panels = [
    dict(data=merge((a_year, a_obs, a_pri, a_post)), sym="circle", legend_top=143,
         dom=(170, 31), rng=(370, 400), ticks=ya_ticks, lbl_y=46, r_y=128, r_x=613, showx=True),
    dict(data=merge((ct_year, b_obs, b_pri, b_post), (ct_year2, b2_obs, b2_pri, b2_post)),
         sym="square-open", legend_top=None,
         dom=(357, 222.7), rng=(375, 396.9), ticks=yb_ticks, lbl_y=239.5, r_y=333, r_x=613, showx=False),
    dict(data=merge((ct_year, c_obs, c_pri, c_post), (ct_year2, c2_obs, c2_pri, c2_post)),
         sym="square-open", legend_top=None,
         dom=(497, 357), rng=(374.85, 397.4), ticks=yb_ticks, lbl_y=376, r_y=475, r_x=613, showx=False),
    dict(data=merge((ct_year, d_obs, d_pri, d_post), (ct_year2, d2_obs, d2_pri, d2_post)),
         sym="square-open", legend_top=611,
         dom=(636.7, 500.7), rng=(375, 397.3), ticks=yb_ticks, lbl_y=516, r_y=590, r_x=619, showx=True),
]

fig = go.Figure()
annotations = []
shapes = []
layout = {}

for i, p in enumerate(panels):
    k = "" if i == 0 else str(i + 1)
    xa, ya = "x" + k, "y" + k
    xs, obs, pri, post = p["data"]
    fig.add_trace(go.Scatter(x=xs, y=obs, mode="markers", name="observation",
                             marker=dict(symbol="circle", size=9 if i == 0 else 8, color=OBS_C),
                             xaxis=xa, yaxis=ya, showlegend=False))
    fig.add_trace(go.Scatter(x=xs, y=pri, mode="markers", name="priori",
                             marker=dict(symbol="star-diamond", size=7 if i == 0 else 6, color=PRI_C),
                             xaxis=xa, yaxis=ya, showlegend=False))
    if p["sym"] == "circle":
        pm = dict(symbol="circle", size=5, color="black")
    else:
        pm = dict(symbol="square-open", size=5, color="black", line=dict(width=1.1, color="black"))
    fig.add_trace(go.Scatter(x=xs, y=post, mode="markers", name="posterior",
                             marker=pm, xaxis=xa, yaxis=ya, showlegend=False))

    layout["xaxis" + k] = dict(
        domain=[pxx(59), pxx(621)], range=[2006.02, 2011.01], anchor=ya,
        tickvals=x_tick_vals, ticktext=x_tick_text, ticks="inside", ticklen=5,
        tickcolor="black", showticklabels=p["showx"], ticklabeloverflow="allow",
        showgrid=False, zeroline=False,
        showline=True, linecolor="black", linewidth=1.5, mirror="ticks",
        tickfont=dict(size=14, color="black", family=FONT))
    layout["yaxis" + k] = dict(
        domain=[py(p["dom"][0]), py(p["dom"][1])], range=list(p["rng"]), anchor=xa,
        tickvals=p["ticks"], ticks="inside", ticklen=5, tickcolor="black",
        showgrid=False, zeroline=False, showline=True, linecolor="black", linewidth=1.5,
        mirror="ticks", tickfont=dict(size=14, color="black", family=FONT))

    ymid = (p["dom"][0] + p["dom"][1]) / 2
    annotations.append(dict(text="CO2 (ppm)", textangle=-90, xref="paper", yref="paper",
                            x=pxx(17), y=py(ymid), xanchor="center", yanchor="middle",
                            showarrow=False, font=dict(size=14, color="black", family=FONT)))
    annotations.append(dict(text=panel_labels[i], xref="paper", yref="paper",
                            x=pxx(65), y=py(p["lbl_y"]), xanchor="left", yanchor="middle",
                            showarrow=False, font=dict(size=16, color="black", family=FONT)))
    annotations.append(dict(text=r_labels[i], xref="paper", yref="paper",
                            x=pxx(p["r_x"]), y=py(p["r_y"]), xanchor="right", yanchor="middle",
                            showarrow=False, font=dict(size=15, color="#0000ff", family=FONT)))

    # legend box (shape + text so that its compact size matches the original)
    if p["legend_top"] is not None:
        top = p["legend_top"]
        bot = top + 24
        cy = py((top + bot) / 2)
        shapes.append(dict(type="rect", xref="paper", yref="paper", x0=pxx(321), x1=pxx(627),
                           y0=py(bot), y1=py(top), line=dict(color="black", width=1.5),
                           fillcolor="white", layer="above"))
        post_glyph = ("\u25cf", 7, "black") if p["sym"] == "circle" else ("\u25a1", 10, "black")
        glyphs = [("\u25cf", 12, OBS_C, 340), ("\u2726", 11, PRI_C, 463),
                  (post_glyph[0], post_glyph[1], post_glyph[2], 542)]
        text_x = [360, 480, 559]
        for (g, gs, gc, gx), tx, nm in zip(glyphs, text_x, legend_names):
            annotations.append(dict(text=g, xref="paper", yref="paper", x=pxx(gx), y=cy,
                                    xanchor="center", yanchor="middle", showarrow=False,
                                    font=dict(size=gs, color=gc, family="DejaVu Sans")))
            annotations.append(dict(text=nm, xref="paper", yref="paper", x=pxx(tx), y=cy,
                                    xanchor="left", yanchor="middle", showarrow=False,
                                    font=dict(size=16, color="black", family=FONT)))

annotations.append(dict(text="<b>Surface CO2 time series of WLG, China between 2006\u22122010 (36.29 N, 100.90 E)</b>",
                        xref="paper", yref="paper", x=pxx(342), y=py(22), xanchor="center", yanchor="middle",
                        showarrow=False, font=dict(size=14.5, color="black", family=FONT)))
annotations.append(dict(text="<b>CONTRAIL CO2 time series between 2006\u22122010 (32\u221240N, 136\u2212144E)</b>",
                        xref="paper", yref="paper", x=pxx(342), y=py(215), xanchor="center", yanchor="middle",
                        showarrow=False, font=dict(size=14.5, color="black", family=FONT)))
annotations.append(dict(text="<b>year</b>", xref="paper", yref="paper", x=pxx(341), y=py(671),
                        xanchor="center", yanchor="middle", showarrow=False,
                        font=dict(size=16, color="black", family=FONT)))

fig.update_layout(width=W, height=H, autosize=False, margin=dict(l=0, r=0, t=0, b=0),
                  paper_bgcolor="white", plot_bgcolor="white", showlegend=False,
                  font=dict(family=FONT, color="black"), annotations=annotations, shapes=shapes,
                  **layout)

fig.write_html("out.html")
